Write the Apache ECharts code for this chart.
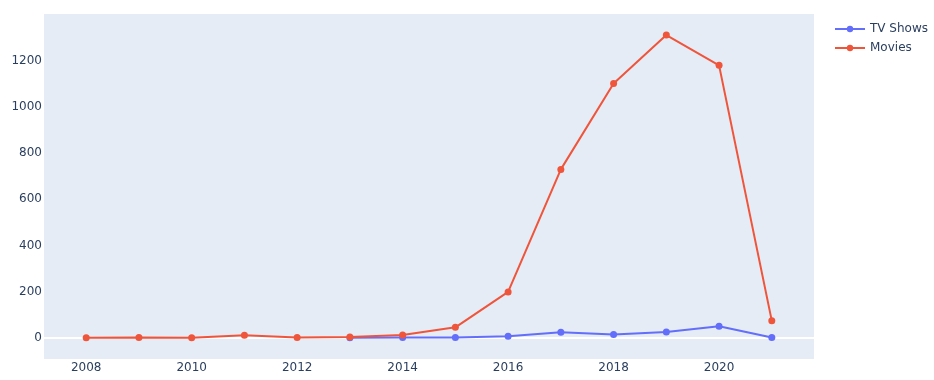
<!DOCTYPE html>
<html>
<head>
<meta charset="utf-8">
<script src="https://cdn.jsdelivr.net/npm/echarts@6/dist/echarts.min.js"></script>
<style>
html,body{margin:0;padding:0;background:#fff;}
#c{width:934px;height:380px;}
</style>
</head>
<body>
<div id="c"></div>
<script>
const movieYears = [2008, 2009, 2010, 2011, 2012, 2013, 2014, 2015, 2016, 2017, 2018, 2019, 2020, 2021];
const movieCounts = [1, 2, 1, 12, 2, 4, 13, 46, 199, 729, 1100, 1310, 1179, 74];
const tvYears = [2013, 2014, 2015, 2016, 2017, 2018, 2019, 2020, 2021];
const tvCounts = [1, 2, 2, 7, 25, 15, 26, 51, 2];
const xTicks = [2008, 2010, 2012, 2014, 2016, 2018, 2020];
const yTicks = [0, 200, 400, 600, 800, 1000, 1200];
const xRange = [2007.2, 2021.8];
const yRange = [-91, 1401];

const font = '"DejaVu Sans", verdana, arial, sans-serif';
const textColor = '#2a3f5f';

const chart = echarts.init(document.getElementById('c'), null, {renderer: 'canvas'});
chart.setOption({
  animation: false,
  textStyle: {fontFamily: font},
  grid: {
    left: 44, right: 120, top: 14, bottom: 21,
    show: true, backgroundColor: '#E5ECF6', borderWidth: 0
  },
  legend: {
    orient: 'vertical',
    left: 834, top: 23, padding: 0,
    itemWidth: 30, itemHeight: 8, itemGap: 7,
    data: ['TV Shows', 'Movies'],
    textStyle: {color: textColor, fontSize: 12, fontFamily: font}
  },
  xAxis: {
    type: 'value', min: xRange[0], max: xRange[1],
    axisLine: {show: false}, axisTick: {show: false}, splitLine: {show: false},
    axisLabel: {customValues: xTicks, formatter: v => String(v), color: textColor, fontSize: 12, margin: 3, fontFamily: font}
  },
  yAxis: {
    type: 'value', min: yRange[0], max: yRange[1],
    axisLine: {show: false}, axisTick: {show: false}, splitLine: {show: false},
    axisLabel: {customValues: yTicks, formatter: v => String(v), color: textColor, fontSize: 12, margin: 2, fontFamily: font}
  },
  series: [
    {
      name: 'zero', type: 'line', z: 1, silent: true,
      data: [[xRange[0], 0], [xRange[1], 0]],
      symbol: 'none',
      lineStyle: {color: '#ffffff', width: 2}
    },
    {
      name: 'TV Shows', type: 'line', z: 3,
      data: tvYears.map((y, i) => [y, tvCounts[i]]),
      symbol: 'circle', symbolSize: 7, showAllSymbol: true,
      itemStyle: {color: '#636efa'},
      lineStyle: {color: '#636efa', width: 2}
    },
    {
      name: 'Movies', type: 'line', z: 4,
      data: movieYears.map((y, i) => [y, movieCounts[i]]),
      symbol: 'circle', symbolSize: 7, showAllSymbol: true,
      itemStyle: {color: '#EF553B'},
      lineStyle: {color: '#EF553B', width: 2}
    }
  ]
});
</script>
</body>
</html>
